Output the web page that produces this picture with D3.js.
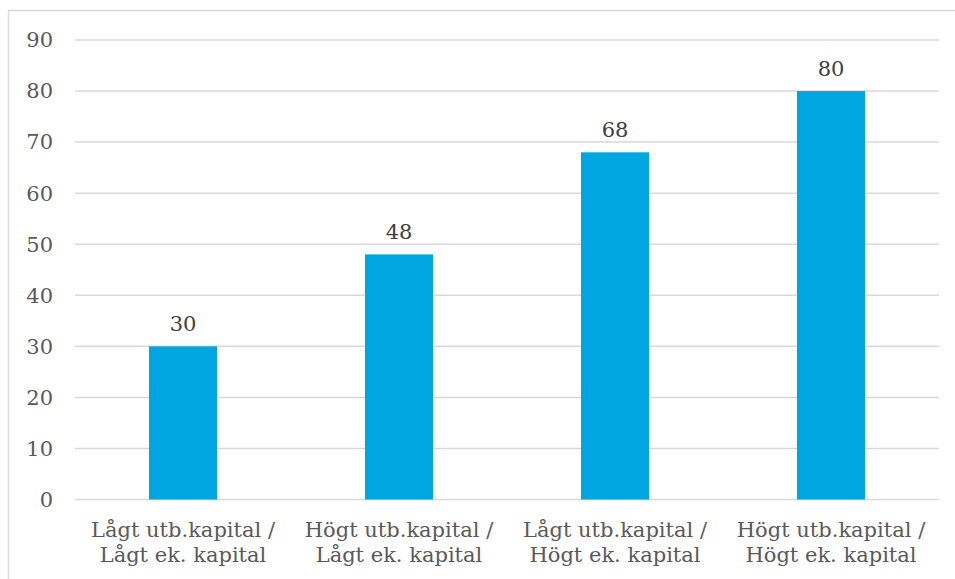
<!DOCTYPE html>
<html>
<head>
<meta charset="utf-8">
<script src="https://cdn.jsdelivr.net/npm/d3@7"></script>
<style>
  body { margin: 0; background: #fff; }
  text { font-family: "DejaVu Serif", serif; fill: #595959; }
</style>
</head>
<body>
<svg id="chart" width="955" height="579"></svg>
<script>
const categories = [
  ["Lågt utb.kapital /", "Lågt ek. kapital"],
  ["Högt utb.kapital /", "Lågt ek. kapital"],
  ["Lågt utb.kapital /", "Högt ek. kapital"],
  ["Högt utb.kapital /", "Högt ek. kapital"]
];
const values = [30, 48, 68, 80];
const yTicks = [0, 10, 20, 30, 40, 50, 60, 70, 80, 90];

const svg = d3.select("#chart");
const plot = { left: 75, right: 939, top: 40, bottom: 499.5 };

// frame (only top and left visible in reference)
svg.append("rect")
  .attr("x", 8.5).attr("y", 10.5)
  .attr("width", 1000).attr("height", 1000)
  .attr("fill", "none")
  .attr("stroke", "#d9d9d9")
  .attr("stroke-width", 1.5);

const x = d3.scaleBand()
  .domain(d3.range(categories.length))
  .range([plot.left, plot.right])
  .padding(0);

const y = d3.scaleLinear()
  .domain([0, 90])
  .range([plot.bottom, plot.top]);

const barW = x.bandwidth() * 0.315;

svg.append("g")
  .selectAll("line")
  .data(yTicks)
  .join("line")
  .attr("x1", plot.left).attr("x2", plot.right)
  .attr("y1", d => y(d)).attr("y2", d => y(d))
  .attr("stroke", "#d9d9d9")
  .attr("stroke-width", 1.5);

svg.append("g")
  .selectAll("text")
  .data(yTicks)
  .join("text")
  .attr("x", 53)
  .attr("y", d => y(d))
  .attr("dy", "0.35em")
  .attr("text-anchor", "end")
  .style("font-size", "21px")
  .text(d => d);

svg.append("g")
  .selectAll("rect")
  .data(values)
  .join("rect")
  .attr("x", (d, i) => x(i) + x.bandwidth() / 2 - barW / 2)
  .attr("width", barW)
  .attr("y", d => y(d))
  .attr("height", d => y(0) - y(d))
  .attr("fill", "#00a6e0");

svg.append("g")
  .selectAll("text")
  .data(values)
  .join("text")
  .attr("x", (d, i) => x(i) + x.bandwidth() / 2)
  .attr("y", d => y(d) - 15)
  .attr("text-anchor", "middle")
  .style("font-size", "21px")
  .style("fill", "#404040")
  .text(d => d);

const labels = svg.append("g")
  .selectAll("text")
  .data(categories)
  .join("text")
  .attr("x", (d, i) => x(i) + x.bandwidth() / 2)
  .attr("y", 537)
  .attr("text-anchor", "middle")
  .style("font-size", "21px");

labels.selectAll("tspan")
  .data(d => d)
  .join("tspan")
  .attr("x", function () { return this.parentNode.getAttribute("x"); })
  .attr("dy", (d, i) => i === 0 ? 0 : 25)
  .text(d => d);
</script>
</body>
</html>
